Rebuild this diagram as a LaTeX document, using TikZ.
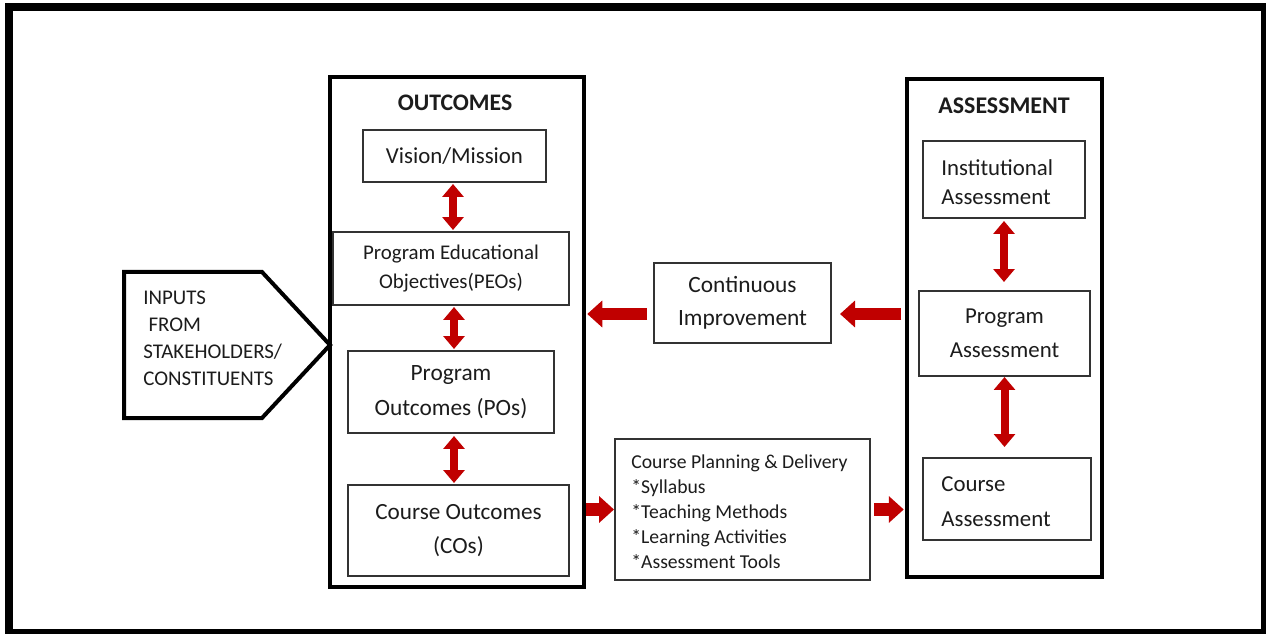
\documentclass[tikz,border=0pt]{standalone}
\usepackage{fontspec}
\setmainfont{Carlito}
\usetikzlibrary{arrows.meta,calc}
\definecolor{arrred}{HTML}{C00000}
\definecolor{txt}{HTML}{1C1C1C}
\newcommand\pxl[1]{#1*0.02cm}
\newcommand\fs[2]{\fontsize{#1pt}{#2pt}\selectfont}
\begin{document}
\begin{tikzpicture}[x=0.02cm,y=-0.02cm,
  outerbox/.style={draw=black, line width=0.07cm, inner sep=0pt},
  inbox/.style={draw=black!80, line width=0.04cm, inner sep=0pt, text=txt, align=center},
  plain/.style={inner sep=0pt, text=txt},
  dbl/.style={draw=arrred, line width=0.16cm, {Triangle[width=0.42cm,length=0.26cm]}-{Triangle[width=0.42cm,length=0.26cm]}},
  bigarr/.style={draw=arrred, line width=0.26cm, -{Triangle[width=0.52cm,length=0.3cm]}}
]
\useasboundingbox (0,0) rectangle (1266,634);
\fill[white] (0,0) rectangle (1266,634);
\fill[black] (5,3) rectangle (1266,634);
\fill[white] (13,11) rectangle (1261,629);

% inputs pentagon
\draw[line width=0.08cm, line join=miter] (124,272) -- (262,272) -- (330,345) -- (262,418) -- (124,418) -- cycle;
\node[plain, anchor=west, align=left, font=\fs{11.9}{15.3}] (inputs) at (143,338)
  {INPUTS\\\hspace*{0.25em}FROM\\STAKEHOLDERS/\\CONSTITUENTS};

% outcomes column
\node[outerbox, minimum width=\pxl{254}, minimum height=\pxl{510}] (outcomes) at (457,332) {};
\node[plain, font=\bfseries\fs{13.5}{16}] (outt) at (455,103) {OUTCOMES};
\node[inbox, minimum width=\pxl{183}, minimum height=\pxl{52}, font=\fs{13}{16}] (vision) at (454.5,156) {Vision/Mission};
\node[inbox, minimum width=\pxl{236}, minimum height=\pxl{73}, font=\fs{11.9}{17}] (peo) at (451,268.5) {Program Educational\\Objectives(PEOs)};
\node[inbox, minimum width=\pxl{206}, minimum height=\pxl{82}, font=\fs{13.3}{19.8}] (po) at (451,392) {Program\\Outcomes (POs)};
\node[inbox, minimum width=\pxl{221}, minimum height=\pxl{91}, font=\fs{13.2}{19.5}] (co) at (458.5,530.5) {Course Outcomes\\(COs)};

% middle
\node[inbox, minimum width=\pxl{177}, minimum height=\pxl{80}, font=\fs{13.3}{18.7}] (ci) at (742.5,303) {Continuous\\Improvement};
\node[inbox, minimum width=\pxl{255}, minimum height=\pxl{141}] (cpd) at (742.5,509.5) {};
\node[plain, anchor=west, align=left, font=\fs{11.2}{14.2}] (cpdt) at ($(cpd.west)+(17,2.5)$)
  {Course Planning \& Delivery\\{*}Syllabus\\{*}Teaching Methods\\{*}Learning Activities\\{*}Assessment Tools};

% assessment column
\node[outerbox, minimum width=\pxl{195}, minimum height=\pxl{498}] (assess) at (1004.5,328) {};
\node[plain, font=\bfseries\fs{13.6}{16}] (asst) at (1004,106) {ASSESSMENT};
\node[inbox, minimum width=\pxl{162}, minimum height=\pxl{77}] (inst) at (1004,179.5) {};
\node[plain, anchor=west, align=left, font=\fs{13}{16.4}] (instt) at ($(inst.west)+(19,3)$) {Institutional\\Assessment};
\node[inbox, minimum width=\pxl{171}, minimum height=\pxl{85}, font=\fs{13}{19.3}] (pa) at (1004.5,333.5) {Program\\Assessment};
\node[inbox, minimum width=\pxl{168}, minimum height=\pxl{82}] (ca) at (1007,499) {};
\node[plain, anchor=west, align=left, font=\fs{13}{19.8}] (cat) at ($(ca.west)+(19,3)$) {Course\\Assessment};

% double arrows
\draw[dbl, shorten <=0.02cm, shorten >=0.02cm] ($(vision.south)+(-1.5,0)$) -- ($(vision.south |- peo.north)+(-1.5,0)$);
\draw[dbl, shorten <=0.02cm, shorten >=0.02cm] ($(peo.south)+(3,0)$) -- ($(peo.south |- po.north)+(3,0)$);
\draw[dbl, shorten <=0.04cm, shorten >=0.02cm] ($(po.south)+(3,0)$) -- ($(po.south |- co.north)+(3,0)$);
\draw[dbl, shorten <=0.04cm, shorten >=0.16cm] (inst.south) -- (inst.south |- pa.north);
\draw[dbl, shorten >=0.2cm] (pa.south) -- (pa.south |- ca.north);

% big arrows
\coordinate (ciL) at ($(ci.west)+(0,11)$);
\coordinate (ciR) at ($(ci.east)+(0,11)$);
\draw[bigarr, shorten <=0.12cm, shorten >=0.03cm] (ciL) -- (ciL -| outcomes.east);
\draw[bigarr, shorten <=0.08cm, shorten >=0.16cm] (ciR -| assess.west) -- (ciR);
\draw[bigarr] (cpd.west -| outcomes.east) -- (cpd.west);
\draw[bigarr, shorten <=0.06cm, shorten >=0.03cm] (cpd.east) -- (cpd.east -| assess.west);
\end{tikzpicture}
\end{document}
